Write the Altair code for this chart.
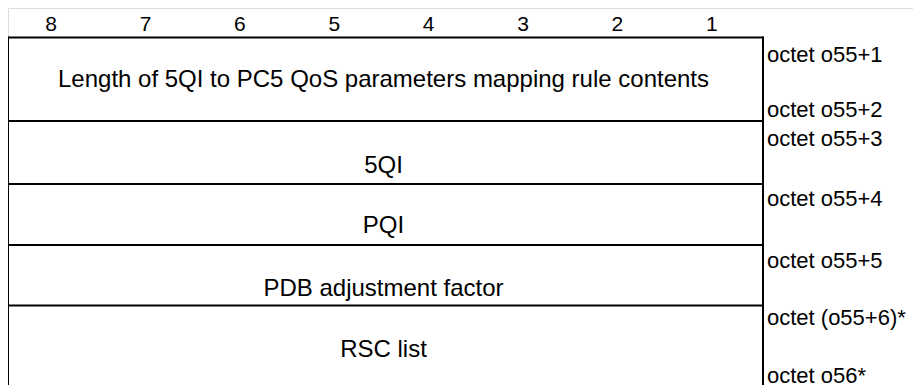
import altair as alt
import pandas as pd

# ---- content ----
bits = [8, 7, 6, 5, 4, 3, 2, 1]
fields = [
    "Length of 5QI to PC5 QoS parameters mapping rule contents",
    "5QI",
    "PQI",
    "PDB adjustment factor",
    "RSC list",
]
octets = [
    "octet o55+1",
    "octet o55+2",
    "octet o55+3",
    "octet o55+4",
    "octet o55+5",
    "octet (o55+6)*",
    "octet o56*",
]

# ---- layout (chart units: x in bit columns, y in px from top) ----
field_baselines = [78.7, 164.7, 225.0, 288.0, 349.3]
octet_baselines = [53.7, 108.7, 137.7, 198.0, 260.3, 316.5, 374.5]
row_bounds = [29.5, 113.0, 176.0, 237.0, 297.5]
header_baseline = 22.7
table_bottom = 377.0

W, H = 905, 377
COL = 94.375
XMAX = W / COL

xs = alt.Scale(domain=[0, XMAX], nice=False, zero=False)
ys = alt.Scale(domain=[0, H], nice=False, zero=False, reverse=True)
FONT = "Liberation Sans"

hdr = pd.DataFrame({"bit": [str(b) for b in bits],
                    "x": [8 - b + 0.5 for b in bits],
                    "y": [header_baseline] * len(bits)})
header = alt.Chart(hdr).mark_text(font=FONT, fontSize=21, baseline="alphabetic",
                                  align="center", dx=-4, color="black").encode(
    x=alt.X("x:Q", scale=xs, axis=None),
    y=alt.Y("y:Q", scale=ys, axis=None),
    text="bit:N")

hl = pd.DataFrame({"x": [-0.02] * len(row_bounds), "x2": [8.01] * len(row_bounds),
                   "y": row_bounds})
hlines = alt.Chart(hl).mark_rule(color="black", strokeWidth=2).encode(
    x=alt.X("x:Q", scale=xs, axis=None), x2="x2:Q",
    y=alt.Y("y:Q", scale=ys, axis=None))

vl = pd.DataFrame({"x": [0, 8], "y": [row_bounds[0] - 1, row_bounds[0] - 1],
                   "y2": [table_bottom + 10, table_bottom + 10]})
vlines = alt.Chart(vl).mark_rule(color="black", strokeWidth=2).encode(
    x=alt.X("x:Q", scale=xs, axis=None),
    y=alt.Y("y:Q", scale=ys, axis=None), y2="y2:Q")

fd = pd.DataFrame({"label": fields, "x": [4] * len(fields), "y": field_baselines})
ftext = alt.Chart(fd).mark_text(font=FONT, fontSize=24, baseline="alphabetic",
                                align="center", dx=-2, color="black").encode(
    x=alt.X("x:Q", scale=xs, axis=None),
    y=alt.Y("y:Q", scale=ys, axis=None),
    text="label:N")

od = pd.DataFrame({"label": octets, "x": [8] * len(octets), "y": octet_baselines})
otext = alt.Chart(od).mark_text(font=FONT, fontSize=22, baseline="alphabetic",
                                align="left", dx=4, color="black").encode(
    x=alt.X("x:Q", scale=xs, axis=None),
    y=alt.Y("y:Q", scale=ys, axis=None),
    text="label:N")

chart = alt.layer(hlines, vlines, header, ftext, otext).properties(
    width=W, height=H, padding=0,
    autosize=alt.AutoSizeParams(type="none"),
).configure_view(stroke=None).configure(background="white")

chart.save("out.html", embed_options={"renderer": "svg", "actions": False})
